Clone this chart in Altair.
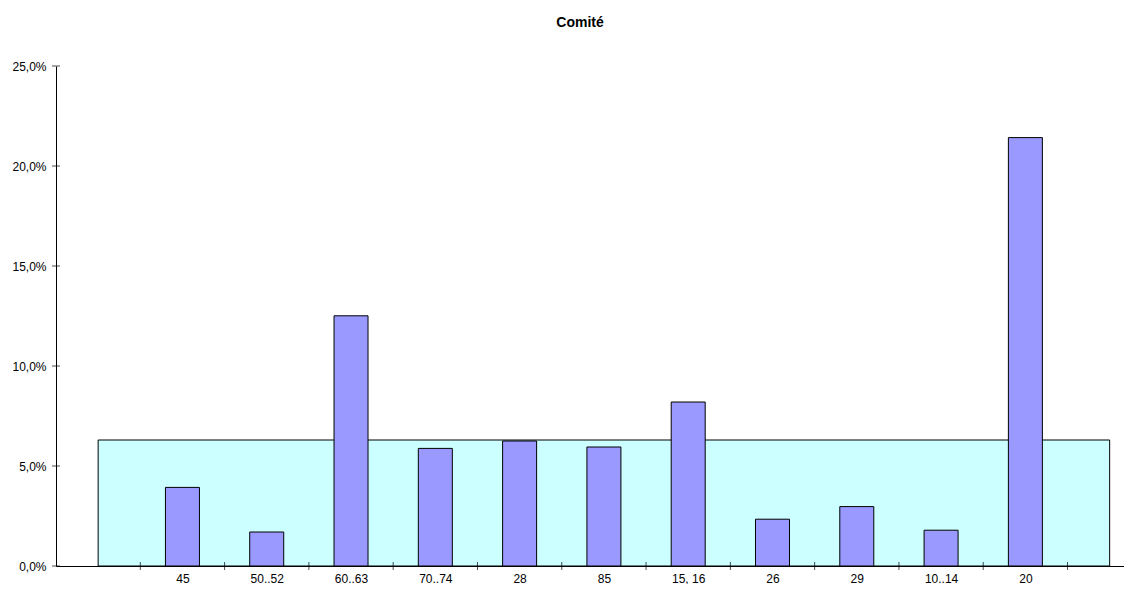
import json
import altair as alt
import pandas as pd

# ---- data ----
categories = ["45", "50..52", "60..63", "70..74", "28", "85", "15, 16", "26", "29", "10..14", "20"]
values = [3.93, 1.70, 12.51, 5.88, 6.25, 5.95, 8.20, 2.34, 2.97, 1.79, 21.42]  # percent
reference_value = 6.30  # percent (cyan area)
y_tick_values = [0, 5, 10, 15, 20, 25]
chart_title = "Comité"

n = len(categories)
positions = list(range(1, n + 1))
bars_df = pd.DataFrame({"x": positions, "cat": categories, "y": values})
band_df = pd.DataFrame({"x": [0], "x2": [n + 1], "y": [0], "y2": [reference_value]})
xtick_df = pd.DataFrame({"x": [i + 0.5 for i in range(0, n + 1)]})
ytick_df = pd.DataFrame({"y": y_tick_values})

FONT = "Liberation Sans"
X_MIN, X_MAX = -0.5, 12.17
x_scale = alt.Scale(domain=[X_MIN, X_MAX], nice=False, zero=False, padding=0)
y_scale = alt.Scale(domain=[0, 25], nice=False, zero=True, padding=0)

label_expr = json.dumps(categories) + "[datum.value - 1]"

x_axis = alt.Axis(
    values=positions, labelExpr=label_expr, ticks=False, tickSize=0, grid=False,
    domain=True, domainColor="#000000", domainWidth=1, labelPadding=7,
    labelFont=FONT, labelFontSize=12, labelColor="#000000", labelAngle=0,
    title=None, labelFlush=False, labelOverlap=False,
)
y_axis = alt.Axis(
    values=y_tick_values, labelExpr="replace(format(datum.value / 100, '.1%'), '.', ',')",
    ticks=False, tickSize=0, grid=False, domain=True, domainColor="#000000", domainWidth=1,
    labelPadding=10, labelFont=FONT, labelFontSize=12, labelColor="#000000", title=None,
)

band = alt.Chart(band_df).mark_rect(fill="#CCFFFF", stroke="#000000", strokeWidth=1).encode(
    x=alt.X("x:Q", scale=x_scale, axis=x_axis),
    x2="x2:Q",
    y=alt.Y("y:Q", scale=y_scale, axis=y_axis),
    y2="y2:Q",
)

bars = alt.Chart(bars_df).mark_bar(size=34, fill="#9999FF", stroke="#000000", strokeWidth=1).encode(
    x=alt.X("x:Q", scale=x_scale, axis=x_axis),
    y=alt.Y("y:Q", scale=y_scale, axis=y_axis),
)

xticks = alt.Chart(xtick_df).mark_tick(orient="vertical", size=8, thickness=1, color="#000000").encode(
    x=alt.X("x:Q", scale=x_scale, axis=x_axis),
    y=alt.datum(0, scale=y_scale, axis=y_axis),
)

yticks = alt.Chart(ytick_df).mark_tick(orient="horizontal", size=8, thickness=1, color="#000000").encode(
    y=alt.Y("y:Q", scale=y_scale, axis=y_axis),
    x=alt.datum(X_MIN, scale=x_scale, axis=x_axis),
)

chart = alt.layer(band, bars, xticks, yticks).properties(
    width=1068,
    height=500,
    background="#FFFFFF",
    padding={"left": 3, "top": 8, "right": 0, "bottom": 0},
    title=alt.TitleParams(chart_title, font=FONT, fontSize=14, fontWeight="bold",
                          color="#000000", anchor="middle", frame="group", offset=30, dx=-10),
).configure_view(strokeWidth=0)

chart.save("out.html", embed_options={"renderer": "svg", "actions": False})
